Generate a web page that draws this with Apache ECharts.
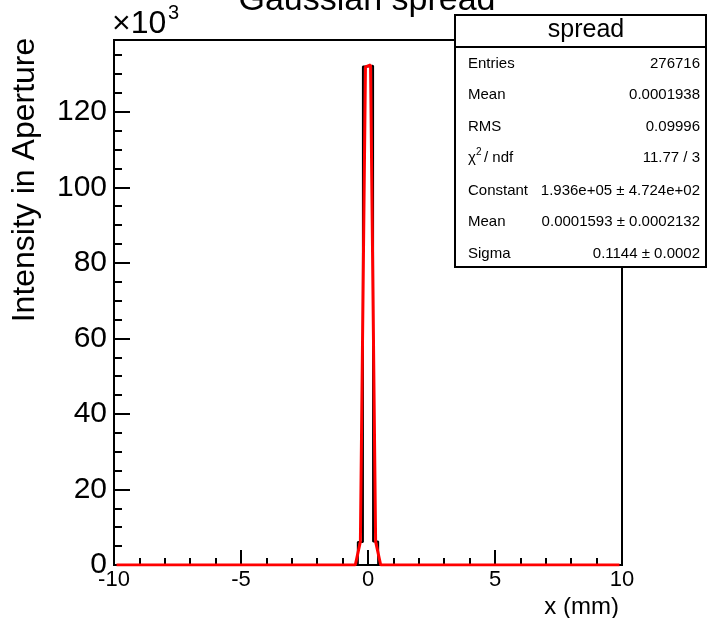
<!DOCTYPE html>
<html><head><meta charset="utf-8">
<script src="https://cdn.jsdelivr.net/npm/echarts@6/dist/echarts.min.js"></script>
<style>html,body{margin:0;padding:0;background:#fff}#c{width:712px;height:618px}</style>
</head><body><div id="c"></div>
<script>
// Histogram (counts in units of 10^3), bin edges in mm
const histEdges = [-10, -0.4, -0.2, 0, 0.2, 0.4, 10];
const histCounts = [0, 6.1, 132.0, 132.2, 6.2, 0];
// Gaussian fit curve sample points
const fitX = [-9.9, -0.5, -0.3, -0.1, 0.1, 0.3, 0.5, 9.9];
const fitY = [0, 0, 6.2, 131.9, 132.4, 6.2, 0, 0];
// Axes
const xMin = -10, xMax = 10, xStep = 5;
const yMin = 0, yMax = 139, yStep = 20, yMinorStep = 5;
// Texts
const chartTitle = 'Gaussian spread';
const xTitle = 'x (mm)';
const yTitle = 'Intensity in Aperture';
const statsName = 'spread';
const statsLabels = ['Entries', 'Mean', 'RMS', 'χ2 / ndf', 'Constant', 'Mean', 'Sigma'];
const statsValues = ['276716', '0.0001938', '0.09996', '11.77 / 3', '1.936e+05 \u00b1 4.724e+02', '0.0001593 \u00b1 0.0002132', '0.1144 \u00b1 0.0002'];

const FONT = '"Liberation Sans", Arial, Helvetica, sans-serif';
const histData = histEdges.map((e, i) => [e, histCounts[Math.min(i, histCounts.length - 1)]]);
const fitData = fitX.map((x, i) => [x, fitY[i]]);

const chart = echarts.init(document.getElementById('c'), null, {renderer: 'canvas'});

const graphics = [];
graphics.push({type: 'text', x: 367, y: 1, z: 1, style: {text: chartTitle, font: '34px ' + FONT, fill: '#000', align: 'center', verticalAlign: 'middle'}});
graphics.push({type: 'text', x: 112, y: 24, z: 1, style: {text: '\u00d710', font: '32px ' + FONT, fill: '#000', align: 'left', verticalAlign: 'middle'}});
graphics.push({type: 'text', x: 168, y: 13, z: 1, style: {text: '3', font: '20px ' + FONT, fill: '#000', align: 'left', verticalAlign: 'middle'}});
graphics.push({type: 'text', x: 25, y: 180, rotation: Math.PI / 2, z: 1, style: {text: yTitle, font: '32px ' + FONT, fill: '#000', align: 'center', verticalAlign: 'middle'}});
graphics.push({type: 'text', x: 619, y: 607, z: 1, style: {text: xTitle, font: '24px ' + FONT, fill: '#000', align: 'right', verticalAlign: 'middle'}});
// stats box
const bx = 455, by = 15, bw = 251, bh = 252;
graphics.push({type: 'rect', z: 100, shape: {x: bx, y: by, width: bw, height: bh}, style: {fill: '#fff', stroke: '#000', lineWidth: 2}});
graphics.push({type: 'line', z: 101, shape: {x1: bx, y1: 47, x2: bx + bw, y2: 47}, style: {stroke: '#000', lineWidth: 2}});
graphics.push({type: 'text', z: 101, x: 586, y: 30, style: {text: statsName, font: '25px ' + FONT, fill: '#000', align: 'center', verticalAlign: 'middle'}});
const rowY = [63.5, 95, 127, 158, 191, 222, 254];
statsLabels.forEach((lab, i) => {
  if (lab.startsWith('χ2')) {
    graphics.push({type: 'text', z: 101, x: 468, y: rowY[i], style: {text: 'χ', font: '15px ' + FONT, fill: '#000', align: 'left', verticalAlign: 'middle'}});
    graphics.push({type: 'text', z: 101, x: 476, y: rowY[i] - 6, style: {text: '2', font: '10px ' + FONT, fill: '#000', align: 'left', verticalAlign: 'middle'}});
    graphics.push({type: 'text', z: 101, x: 484, y: rowY[i], style: {text: lab.slice(3), font: '15px ' + FONT, fill: '#000', align: 'left', verticalAlign: 'middle'}});
  } else {
    graphics.push({type: 'text', z: 101, x: 468, y: rowY[i], style: {text: lab, font: '15px ' + FONT, fill: '#000', align: 'left', verticalAlign: 'middle'}});
  }
  graphics.push({type: 'text', z: 101, x: 700, y: rowY[i], style: {text: statsValues[i], font: '15px ' + FONT, fill: '#000', align: 'right', verticalAlign: 'middle'}});
});

chart.setOption({
  animation: false,
  backgroundColor: '#fff',
  textStyle: {fontFamily: FONT},
  grid: {left: 114, right: 90, top: 40, bottom: 53, show: true, borderColor: '#000', borderWidth: 2, backgroundColor: 'transparent', containLabel: false},
  xAxis: {
    type: 'value', min: xMin, max: xMax, interval: xStep,
    axisLine: {show: true, onZero: false, lineStyle: {color: '#000', width: 2}},
    axisTick: {show: true, inside: true, length: 15, lineStyle: {color: '#000', width: 2}},
    minorTick: {show: true, splitNumber: 5, length: 7, lineStyle: {color: '#000', width: 2}},
    splitLine: {show: false},
    axisLabel: {color: '#000', fontSize: 22, fontFamily: FONT, margin: 4}
  },
  yAxis: [{
    type: 'value', min: yMin, max: yMax, interval: yStep,
    axisLine: {show: true, onZero: false, lineStyle: {color: '#000', width: 2}},
    axisTick: {show: true, inside: true, length: 16, lineStyle: {color: '#000', width: 2}},
    splitLine: {show: false},
    axisLabel: {color: '#000', fontSize: 30, fontFamily: FONT, margin: 7, showMaxLabel: false}
  }, {
    type: 'value', min: yMin, max: yMax, interval: yMinorStep, position: 'left', offset: 0,
    axisLine: {show: false, onZero: false},
    axisTick: {show: true, inside: true, length: 8, lineStyle: {color: '#000', width: 2}},
    splitLine: {show: false},
    axisLabel: {show: false}
  }],
  series: [{
    type: 'line', data: histData, step: 'end', showSymbol: false, symbol: 'none',
    lineStyle: {color: '#000', width: 2}, z: 3
  }, {
    type: 'line', data: fitData, showSymbol: false, symbol: 'none',
    lineStyle: {color: '#ff0000', width: 3}, z: 4
  }],
  graphic: graphics
});
</script></body></html>
